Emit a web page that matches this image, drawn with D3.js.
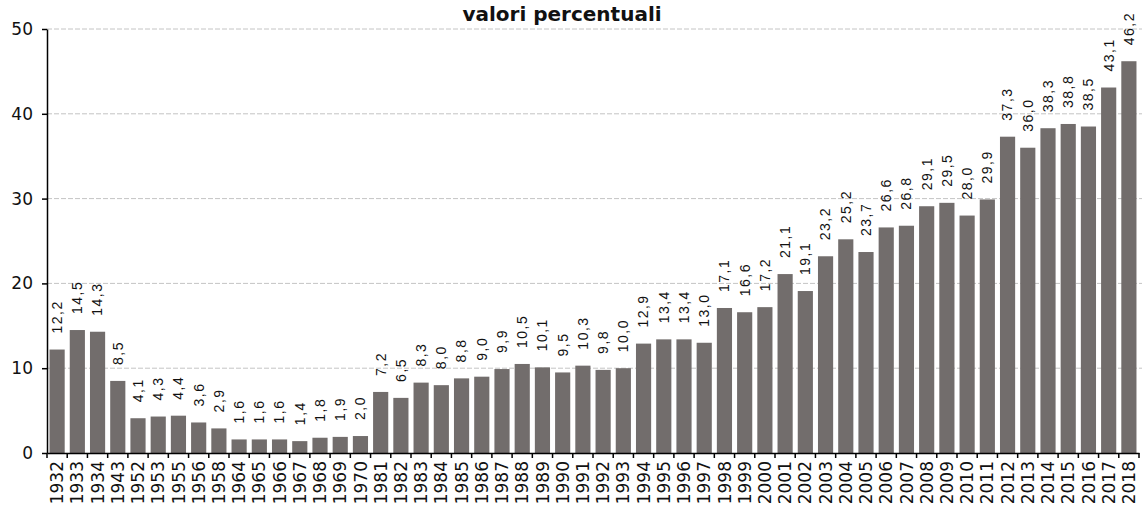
<!DOCTYPE html>
<meta charset="utf-8">
<style>
  body { margin: 0; background: #fff; }
  .grid line { stroke: #c4c4c4; stroke-dasharray: 5,2; }
  .axis path, .axis line { stroke: #000; stroke-width: 1.5px; }
  .axis text { font-family: "DejaVu Sans", Verdana, sans-serif; font-size: 17px; fill: #111; }
  .val { font-family: "Liberation Sans", Arial, sans-serif; font-size: 14px; letter-spacing: 1.5px; fill: #111; }
  .title { font-family: "DejaVu Sans", Verdana, sans-serif; font-size: 20px; font-weight: bold; fill: #111; }
</style>

<svg width="1142" height="511"></svg>

<script src="https://d3js.org/d3.v7.min.js"></script>

<script>
  var years = ["1932","1933","1934","1943","1952","1953","1955","1956","1958",
    "1964","1965","1966","1967","1968","1969","1970",
    "1981","1982","1983","1984","1985","1986","1987","1988","1989","1990",
    "1991","1992","1993","1994","1995","1996","1997","1998","1999","2000",
    "2001","2002","2003","2004","2005","2006","2007","2008","2009","2010",
    "2011","2012","2013","2014","2015","2016","2017","2018"];
  var values = [12.2,14.5,14.3,8.5,4.1,4.3,4.4,3.6,2.9,
    1.6,1.6,1.6,1.4,1.8,1.9,2.0,
    7.2,6.5,8.3,8.0,8.8,9.0,9.9,10.5,10.1,9.5,
    10.3,9.8,10.0,12.9,13.4,13.4,13.0,17.1,16.6,17.2,
    21.1,19.1,23.2,25.2,23.7,26.6,26.8,29.1,29.5,28.0,
    29.9,37.3,36.0,38.3,38.8,38.5,43.1,46.2];
  var yTicks = [0, 10, 20, 30, 40, 50];
  var title = "valori percentuali";

  var svg = d3.select("svg");
  var mLeft = 47, mRight = 1139, mTop = 29, mBottom = 453;

  var x = d3.scaleBand().domain(years).range([mLeft, mRight]).paddingInner(0.25).paddingOuter(0.125);
  var y = d3.scaleLinear().domain([0, 50]).range([mBottom, mTop]);

  // gridlines
  svg.append("g")
      .attr("class", "grid")
    .selectAll("line")
    .data(yTicks.slice(1))
    .enter().append("line")
      .attr("x1", mLeft).attr("x2", 1142)
      .attr("y1", y).attr("y2", y);

  // bars
  svg.append("g")
    .selectAll("rect")
    .data(values)
    .enter().append("rect")
      .attr("x", function(d, i) { return x(years[i]); })
      .attr("width", x.bandwidth())
      .attr("y", function(d) { return y(d); })
      .attr("height", function(d) { return y(0) - y(d); })
      .attr("fill", "#726d6c");

  // value labels
  var fmt = d3.format(".1f");
  svg.append("g")
    .selectAll("text")
    .data(values)
    .enter().append("text")
      .attr("class", "val")
      .attr("transform", function(d, i) {
        return "translate(" + (x(years[i]) + x.bandwidth() / 2) + "," + (y(d) - 16) + ") rotate(-90)";
      })
      .attr("dy", "0.35em")
      .text(function(d) { return fmt(d).replace(".", ","); });

  // y axis
  svg.append("g")
      .attr("class", "axis")
      .attr("transform", "translate(" + mLeft + ",0)")
      .call(d3.axisLeft(y).tickValues(yTicks).tickSize(5).tickSizeOuter(0).tickPadding(9));

  // x axis
  var gx = svg.append("g")
      .attr("class", "axis")
      .attr("transform", "translate(0," + mBottom + ")")
      .call(d3.axisBottom(x).tickSize(0).tickSizeOuter(0));
  gx.selectAll(".tick text")
      .attr("transform", "rotate(-90)")
      .attr("text-anchor", "end")
      .attr("x", -8)
      .attr("y", 0)
      .attr("dy", "0.36em");

  var half = (x.step() - x.bandwidth()) / 2;
  var bounds = years.map(function(d) { return x(d) - half; }).concat([mRight]);
  gx.selectAll(".sep")
    .data(bounds)
    .enter().append("line")
      .attr("class", "sep")
      .attr("x1", function(d) { return d; }).attr("x2", function(d) { return d; })
      .attr("y1", 0).attr("y2", 5);

  svg.append("text")
      .attr("class", "title")
      .attr("x", 562)
      .attr("y", 21)
      .attr("text-anchor", "middle")
      .text(title);
</script>
